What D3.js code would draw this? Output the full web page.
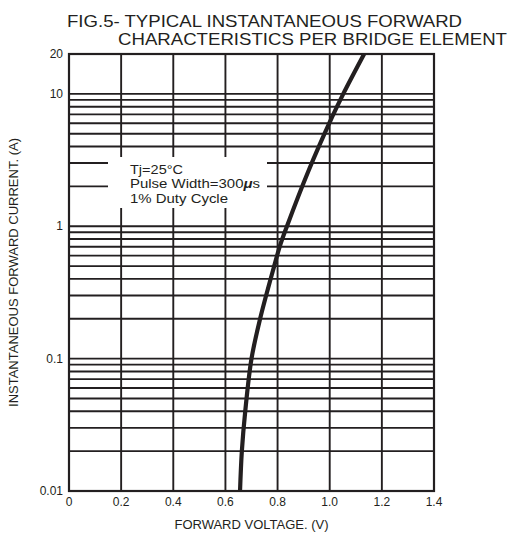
<!DOCTYPE html>
<html>
<head>
<meta charset="utf-8">
<script src="https://cdn.jsdelivr.net/npm/d3@7"></script>
<style>
  html, body { margin: 0; padding: 0; background: #fff; }
  svg { display: block; font-family: "Liberation Sans", Arial, sans-serif; }
</style>
</head>
<body>
<svg id="chart" width="510" height="535"></svg>
<script>
// ---- data ----
const titleLines = ["FIG.5- TYPICAL INSTANTANEOUS FORWARD", "CHARACTERISTICS PER BRIDGE ELEMENT"];
const xLabel = "FORWARD VOLTAGE. (V)";
const yLabel = "INSTANTANEOUS FORWARD CURRENT. (A)";
const xTicks = [0, 0.2, 0.4, 0.6, 0.8, 1.0, 1.2, 1.4];
const xTickLabels = ["0", "0.2", "0.4", "0.6", "0.8", "1.0", "1.2", "1.4"];
const yTicks = [0.01, 0.1, 1, 10, 20];
const yTickLabels = ["0.01", "0.1", "1", "10", "20"];
const legendLines = ["Tj=25°C", "Pulse Width=300", "1% Duty Cycle"];
// forward voltage (V) vs instantaneous forward current (A)
const voltage = [0.656, 0.663, 0.676, 0.700, 0.733, 0.787, 0.810, 0.836, 0.918, 1.008, 1.052, 1.132];
const current = [0.01, 0.02, 0.04, 0.1, 0.2, 0.5, 0.72, 1.0, 2.6, 6.6, 10, 20];

// ---- layout ----
const ink = "#231f20";
const mLeft = 69, mRight = 434, mTop = 54, mBottom = 491;
const svg = d3.select("#chart");

const x = d3.scaleLinear().domain([0, 1.4]).range([mLeft, mRight]);
const y = d3.scaleLog().domain([0.01, 20]).range([mBottom, mTop]);

// grid
const grid = svg.append("g").attr("stroke", ink).attr("stroke-width", 1.9);
grid.selectAll("line.h").data(y.ticks()).join("line")
  .attr("class", "h")
  .attr("x1", mLeft).attr("x2", mRight)
  .attr("y1", d => y(d)).attr("y2", d => y(d));
grid.selectAll("line.v").data(xTicks).join("line")
  .attr("class", "v")
  .attr("x1", d => x(d)).attr("x2", d => x(d))
  .attr("y1", mTop).attr("y2", mBottom);

// frame
svg.append("rect")
  .attr("x", mLeft).attr("y", mTop)
  .attr("width", mRight - mLeft).attr("height", mBottom - mTop)
  .attr("fill", "none").attr("stroke", ink).attr("stroke-width", 2.2);

// legend box (white, masks grid)
svg.append("rect")
  .attr("x", 108).attr("y", 157).attr("width", 159).attr("height", 51)
  .attr("fill", "#fff");
const legWidths = [53, 130, 98];
const leg = svg.append("g").attr("fill", ink).attr("font-size", 13);
const legTexts = leg.selectAll("text").data(legendLines).join("text")
  .attr("x", 130).attr("y", (d, i) => 173.5 + i * 14.6)
  .attr("textLength", (d, i) => legWidths[i])
  .attr("lengthAdjust", "spacingAndGlyphs")
  .text(d => d);
const pw = d3.select(legTexts.nodes()[1]);
pw.append("tspan").attr("font-style", "italic").attr("font-weight", "bold").text("\u03bc");
pw.append("tspan").text("s");

// curve
const pts = voltage.map((v, i) => [v, current[i]]);
const line = d3.line().x(d => x(d[0])).y(d => y(d[1])).curve(d3.curveCatmullRom.alpha(0.5));
svg.append("path").datum(pts)
  .attr("d", line)
  .attr("fill", "none").attr("stroke", ink).attr("stroke-width", 4.2)
  .attr("stroke-linecap", "butt");

// tick labels
svg.append("g").attr("fill", ink).attr("font-size", 12).attr("text-anchor", "end")
  .selectAll("text").data(yTicks).join("text")
  .attr("x", 63).attr("y", d => y(d)).attr("dy", "0.35em")
  .text((d, i) => yTickLabels[i]);
svg.append("g").attr("fill", ink).attr("font-size", 12).attr("text-anchor", "middle")
  .selectAll("text").data(xTicks).join("text")
  .attr("x", d => x(d)).attr("y", 506)
  .text((d, i) => xTickLabels[i]);

// axis titles
svg.append("text").attr("x", (mLeft + mRight) / 2).attr("y", 529)
  .attr("text-anchor", "middle").attr("font-size", 13).attr("fill", ink)
  .text(xLabel);
svg.append("text")
  .attr("transform", `translate(17.5,${(mTop + mBottom) / 2}) rotate(-90)`)
  .attr("text-anchor", "middle").attr("font-size", 13).attr("fill", ink)
  .text(yLabel);

// title
const titleX = [67, 118], titleY = [27, 44.5], titleW = [395, 389];
svg.append("g").attr("fill", ink).attr("font-size", 16.5)
  .selectAll("text").data(titleLines).join("text")
  .attr("x", (d, i) => titleX[i]).attr("y", (d, i) => titleY[i])
  .attr("textLength", (d, i) => titleW[i])
  .attr("lengthAdjust", "spacingAndGlyphs")
  .text(d => d);
</script>
</body>
</html>
